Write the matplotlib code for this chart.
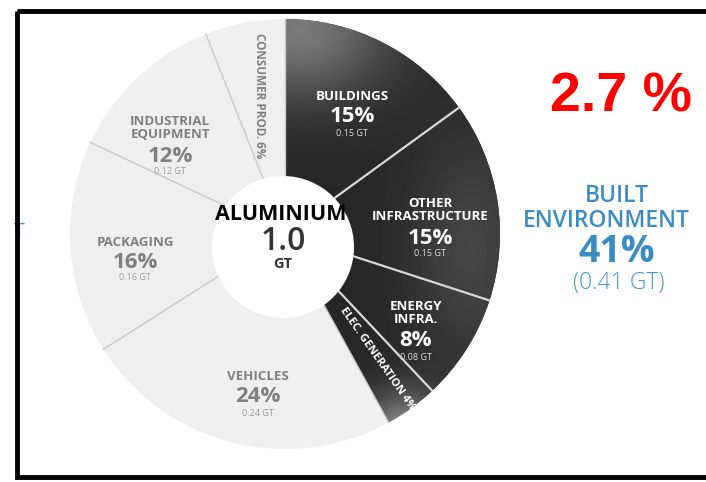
import numpy as np
import matplotlib
matplotlib.use('Agg')
import matplotlib.pyplot as plt
from matplotlib.patches import Circle, Rectangle

# aluminium end-use shares, clockwise from 12 o'clock
segments = ['BUILDINGS', 'OTHER\nINFRASTRUCTURE', 'ENERGY\nINFRA.', 'ELEC. GENERATION',
            'VEHICLES', 'PACKAGING', 'INDUSTRIAL\nEQUIPMENT', 'CONSUMER PROD.']
shares = [15, 15, 8, 4, 24, 16, 12, 6]
tonnes = [0.15, 0.15, 0.08, 0.04, 0.24, 0.16, 0.12, 0.06]
built = [True, True, True, True, False, False, False, False]

total_gt = 1.0
built_share = 41
built_gt = 0.41
growth = '2.7 %'

W, H = 706, 482
fig = plt.figure(figsize=(W / 100, H / 100), dpi=100)
ax = fig.add_axes([0, 0, 1, 1])

# pie in pixel coords (y down), so startangle -90 + counterclock is clockwise on screen
cx, cy, R = 285, 234, 215
light = '#efefef'
wedges, _ = ax.pie(shares, startangle=-90, counterclock=True, center=(cx, cy), radius=R,
                   colors=[('#333333' if b else light) for b in built],
                   wedgeprops=dict(linewidth=0))
ax.set_xlim(0, W)
ax.set_ylim(H, 0)
ax.set_aspect('equal')
ax.axis('off')

# smoky grey shading for the built-environment wedges
yy, xx = np.mgrid[0:H, 0:W]
shade = 0.15 + 0.32 * np.exp(-(((xx - 300) / 90.0) ** 2 + ((yy - 30) / 70.0) ** 2))
shade += 0.45 * np.exp(-(((xx - 405) / 45.0) ** 2 + ((yy - 440) / 45.0) ** 2))
shade += 0.12 * np.exp(-(((xx - 470) / 60.0) ** 2 + ((yy - 250) / 120.0) ** 2))
shade = np.clip(shade, 0, 1)
for w, b in zip(wedges, built):
    if b:
        im = ax.imshow(shade, cmap='gray', vmin=0, vmax=1, extent=(0, W, H, 0),
                       interpolation='bilinear', zorder=1.5)
        im.set_clip_path(w)

# wedge separators
for i, w in enumerate(wedges):
    t = np.deg2rad(w.theta1)
    dark_pair = built[i] and built[i - 1]
    col = '#d8d8d8' if dark_pair else '#c9c9c9'
    lw = 1.6 if dark_pair else 1.0
    ax.plot([cx, cx + R * np.cos(t)], [cy, cy + R * np.sin(t)], color=col, lw=lw, zorder=2)

# centre hole
ax.add_patch(Circle((283, 247), 71, facecolor='white', edgecolor='none', zorder=3))

sans = ['Open Sans', 'DejaVu Sans']
ax.text(281, 214, 'ALUMINIUM', ha='center', va='center', fontsize=15.5, fontweight='bold',
        color='black', family=sans, zorder=4)
ax.text(283, 241, f'{total_gt:.1f}', ha='center', va='center', fontsize=23,
        fontweight='semibold', color='#333333', family=sans, zorder=4)
ax.text(283, 264, 'GT', ha='center', va='center', fontsize=10.5, fontweight='bold',
        color='#333333', family=sans, zorder=4)

# horizontal wedge labels: (x, name block centre y)
label_pos = {0: (352, 97), 1: (430, 210), 2: (416, 313), 4: (258, 377),
             5: (135, 242), 6: (170, 128)}
for i, (x, y) in label_pos.items():
    fg = 'white' if built[i] else '#808080'
    sub = '#dddddd' if built[i] else '#9a9a9a'
    nlines = segments[i].count('\n') + 1
    ax.text(x, y, segments[i], ha='center', va='center', fontsize=9.5, fontweight='bold',
            color=fg, family=sans, linespacing=1.0, zorder=4)
    y_pct = y + 8 * (nlines - 1) + 20
    ax.text(x, y_pct, f'{shares[i]}%', ha='center', va='center', fontsize=16,
            fontweight='bold', color=fg, family=sans, zorder=4)
    ax.text(x, y_pct + 16, f'{tonnes[i]:.2f} GT', ha='center', va='center', fontsize=6.5,
            color=sub, family=sans, zorder=4)

# narrow wedges get rotated labels
ax.text(259, 96, f'{segments[7]} {shares[7]}%', ha='center', va='center', rotation=-90,
        fontsize=8.5, fontweight='bold', color='#808080', family=sans, zorder=4)
ax.text(377, 359, f'{segments[3]} {shares[3]}%', ha='center', va='center', rotation=-55,
        fontsize=8, fontweight='bold', color='white', family=sans, zorder=4)

# right-hand callouts
blue = '#3c8cc4'
ax.text(621, 98, growth, ha='center', va='center', fontsize=40, fontweight='bold',
        color='red', family=['Liberation Sans', 'DejaVu Sans'])
ax.text(617, 196, 'BUILT', ha='center', va='center', fontsize=16.5, fontweight='semibold',
        color=blue, family=sans)
ax.text(606, 221, 'ENVIRONMENT', ha='center', va='center', fontsize=16.5,
        fontweight='semibold', color=blue, family=sans)
ax.text(617, 252, f'{built_share}%', ha='center', va='center', fontsize=27,
        fontweight='bold', color=blue, family=sans)
ax.text(619, 283, f'({built_gt:.2f} GT)', ha='center', va='center', fontsize=16.5,
        fontweight='light', color='#4a96c8', family=sans)
ax.text(25, 231, 'T', ha='right', va='center', fontsize=14, color=blue, family=sans)

# black frame
ax.add_patch(Rectangle((17, 11), W, 466, facecolor='none', edgecolor='black', lw=3.5,
                       zorder=10, clip_on=False))

fig.savefig('out.png', dpi=100)
